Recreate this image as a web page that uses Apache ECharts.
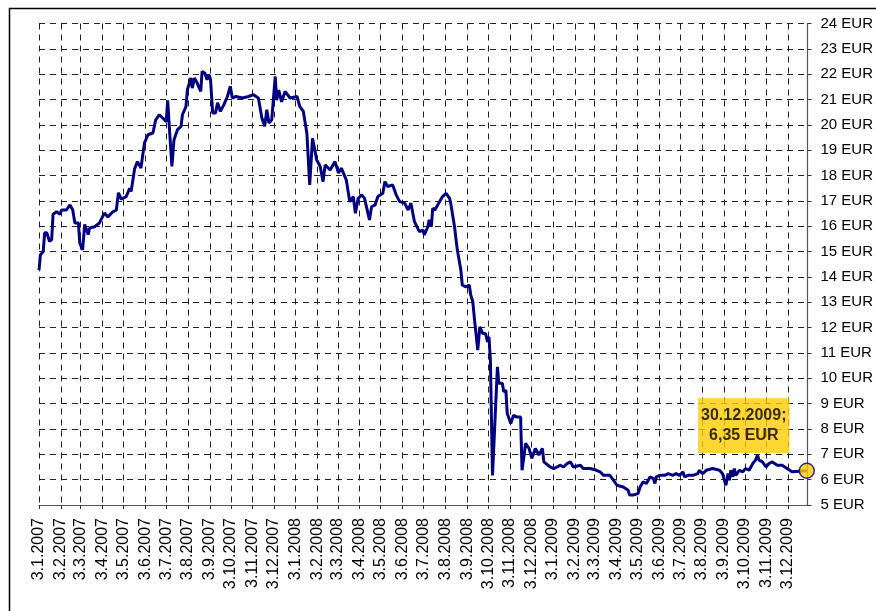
<!DOCTYPE html>
<html>
<head>
<meta charset="utf-8">
<script src="https://cdn.jsdelivr.net/npm/echarts@6/dist/echarts.min.js"></script>
<style>
html,body{margin:0;padding:0;background:#fff;}
#c{width:876px;height:611px;}
</style>
</head>
<body>
<div id="c"></div>
<script>
// Price points (date D.M.YYYY, price in EUR)
const dates = [
'3.1.2007','5.1.2007','9.1.2007','11.1.2007','14.1.2007','18.1.2007','21.1.2007','23.1.2007','28.1.2007',
'2.2.2007','4.2.2007','11.2.2007','16.2.2007','20.2.2007','23.2.2007','28.2.2007',
'2.3.2007','6.3.2007','9.3.2007','14.3.2007','16.3.2007','23.3.2007','30.3.2007',
'6.4.2007','11.4.2007','18.4.2007','23.4.2007','26.4.2007','30.4.2007',
'7.5.2007','12.5.2007','14.5.2007','19.5.2007','23.5.2007','28.5.2007',
'2.6.2007','7.6.2007','14.6.2007','18.6.2007','23.6.2007','28.6.2007',
'3.7.2007','5.7.2007','7.7.2007','11.7.2007','14.7.2007','19.7.2007','24.7.2007','26.7.2007','31.7.2007',
'2.8.2007','7.8.2007','9.8.2007','12.8.2007','16.8.2007','21.8.2007','23.8.2007','27.8.2007','30.8.2007',
'2.9.2007','4.9.2007','7.9.2007','11.9.2007','14.9.2007','18.9.2007','23.9.2007','28.9.2007',
'2.10.2007','5.10.2007','10.10.2007','19.10.2007','28.10.2007',
'4.11.2007','11.11.2007','16.11.2007','20.11.2007','23.11.2007','26.11.2007','30.11.2007',
'5.12.2007','7.12.2007','10.12.2007','14.12.2007','19.12.2007','26.12.2007',
'5.1.2008','9.1.2008','14.1.2008','19.1.2008','23.1.2008','27.1.2008',
'2.2.2008','7.2.2008','11.2.2008','14.2.2008','21.2.2008','28.2.2008',
'4.3.2008','8.3.2008','15.3.2008','20.3.2008','25.3.2008','28.3.2008',
'1.4.2008','6.4.2008','10.4.2008','17.4.2008','20.4.2008','25.4.2008','29.4.2008',
'6.5.2008','9.5.2008','13.5.2008','20.5.2008','25.5.2008','30.5.2008',
'6.6.2008','11.6.2008','15.6.2008','20.6.2008','27.6.2008',
'2.7.2008','4.7.2008','9.7.2008','11.7.2008','14.7.2008','16.7.2008','19.7.2008','23.7.2008','30.7.2008',
'4.8.2008','9.8.2008','11.8.2008','13.8.2008','16.8.2008','20.8.2008','25.8.2008','27.8.2008',
'1.9.2008','6.9.2008','8.9.2008','11.9.2008','13.9.2008','18.9.2008','21.9.2008','25.9.2008','29.9.2008',
'2.10.2008','4.10.2008','6.10.2008','9.10.2008','16.10.2008','18.10.2008','23.10.2008','25.10.2008','28.10.2008','30.10.2008',
'4.11.2008','8.11.2008','13.11.2008','18.11.2008','20.11.2008','23.11.2008','25.11.2008','30.11.2008',
'4.12.2008','9.12.2008','14.12.2008','19.12.2008','21.12.2008','23.12.2008','30.12.2008',
'4.1.2009','9.1.2009','13.1.2009','18.1.2009','23.1.2009','28.1.2009',
'1.2.2009','11.2.2009','15.2.2009','25.2.2009',
'6.3.2009','11.3.2009','16.3.2009','25.3.2009','30.3.2009',
'4.4.2009','13.4.2009','20.4.2009','22.4.2009','27.4.2009',
'4.5.2009','7.5.2009','11.5.2009','16.5.2009','21.5.2009','26.5.2009','28.5.2009','30.5.2009',
'4.6.2009','11.6.2009','16.6.2009','23.6.2009','27.6.2009',
'2.7.2009','7.7.2009','9.7.2009','14.7.2009','21.7.2009','28.7.2009','30.7.2009',
'4.8.2009','9.8.2009','18.8.2009','28.8.2009',
'1.9.2009','6.9.2009','9.9.2009','11.9.2009','13.9.2009','16.9.2009','18.9.2009','20.9.2009','25.9.2009','30.9.2009',
'4.10.2009','9.10.2009','14.10.2009','18.10.2009','21.10.2009','23.10.2009','28.10.2009',
'2.11.2009','6.11.2009','11.11.2009','18.11.2009','25.11.2009',
'2.12.2009','9.12.2009','30.12.2009'
];
const prices = [
14.27,14.87,15.0,15.74,15.74,15.4,15.47,16.47,16.57,
16.47,16.64,16.64,16.84,16.64,16.13,16.13,
15.34,15.07,16.07,15.67,15.93,15.98,16.13,
16.52,16.37,16.57,16.64,17.32,17.07,
17.17,17.5,17.37,18.27,18.55,18.3,
19.29,19.61,19.68,20.2,20.4,20.27,
20.13,20.97,20.07,18.36,19.41,19.81,19.94,20.4,20.72,
21.38,21.85,21.45,21.85,21.65,21.32,22.11,22.04,21.78,
21.97,21.78,20.47,20.47,20.87,20.53,20.8,21.12,
21.52,21.06,21.12,21.06,21.12,
21.19,21.06,20.27,19.94,20.6,20.07,20.2,
21.91,20.97,21.37,20.91,21.32,21.06,
21.12,20.72,20.53,19.67,17.63,19.47,
18.62,18.36,17.76,18.42,18.22,18.55,
18.1,18.29,17.83,16.97,17.17,16.51,
17.1,17.24,17.1,16.25,16.77,16.84,17.17,
17.3,17.76,17.57,17.63,17.24,16.97,
16.91,16.64,16.91,16.18,15.79,
15.85,15.66,15.98,16.25,15.98,16.71,16.64,16.84,17.17,
17.3,17.1,16.84,16.91,15.98,15.06,14.27,13.68,
13.61,13.68,13.29,13.02,12.43,11.11,12.03,11.77,11.77,
11.44,11.64,10.72,6.17,10.45,9.8,9.8,9.47,9.53,8.61,
8.22,8.54,8.47,8.47,6.37,6.97,7.43,7.23,
6.84,7.23,6.97,7.23,6.7,6.63,6.5,
6.44,6.5,6.57,6.5,6.63,6.7,
6.5,6.57,6.44,6.44,
6.37,6.31,6.17,6.17,5.98,
5.78,5.71,5.58,5.39,5.39,
5.45,5.71,5.91,5.85,6.11,6.04,5.85,6.11,
6.17,6.17,6.24,6.17,6.24,
6.17,6.31,6.11,6.17,6.17,6.24,6.37,
6.24,6.37,6.44,6.37,
6.24,5.78,6.24,5.98,6.37,6.11,6.44,6.17,6.37,6.31,
6.44,6.37,6.63,6.77,6.97,6.77,6.7,
6.5,6.63,6.7,6.57,6.57,
6.44,6.31,6.35
];
const yMin = 5, yMax = 24;

// category axis: every calendar day of the period
const categories = [];
for (let t = Date.UTC(2007,0,3); t <= Date.UTC(2009,11,31); t += 86400000) {
  const d = new Date(t);
  categories.push(d.getUTCDate() + '.' + (d.getUTCMonth()+1) + '.' + d.getUTCFullYear());
}
const priceMap = new Map();
dates.forEach((d,i) => priceMap.set(d, prices[i]));
const lineData = categories.map(c => priceMap.has(c) ? priceMap.get(c) : null);
const lastDate = dates[dates.length-1];
const lastPrice = prices[prices.length-1];
const isTick = (idx, val) => String(val).indexOf('3.') === 0;

const chart = echarts.init(document.getElementById('c'), null, {renderer:'canvas'});
chart.setOption({
  animation:false,
  backgroundColor:'#fff',
  grid:{left:39, right:64, top:23.5, bottom:106, containLabel:false},
  xAxis:{
    type:'category', data:categories, boundaryGap:false,
    axisLine:{show:true, lineStyle:{color:'#555', width:1.2}},
    axisTick:{show:true, interval:isTick, length:4, lineStyle:{color:'#333'}},
    axisLabel:{interval:isTick, rotate:90, margin:13, fontFamily:'Liberation Sans, Arial, sans-serif', fontSize:16, color:'#000'},
    splitLine:{show:true, interval:isTick, lineStyle:{color:'#222', width:1, type:[6,5]}}
  },
  yAxis:{
    type:'value', position:'right', min:yMin, max:yMax, interval:1,
    axisLine:{show:true, lineStyle:{color:'#555', width:1.2}},
    axisTick:{show:true, length:4, lineStyle:{color:'#333'}},
    axisLabel:{margin:13, formatter:'{value} EUR', fontFamily:'Liberation Sans, Arial, sans-serif', fontSize:15, color:'#000'},
    splitLine:{show:true, lineStyle:{color:'#222', width:1, type:[6,5]}}
  },
  graphic:[{
    type:'polyline', silent:true, z:100,
    shape:{points:[[9.5,611],[9.5,8.5],[876,8.5]]},
    style:{stroke:'#000', lineWidth:1.5, fill:null}
  }],
  series:[{
    type:'line', data:lineData, connectNulls:true, showSymbol:false, symbol:'none',
    lineStyle:{color:'#000080', width:3}, z:3
  },{
    type:'scatter', data:[[lastDate, lastPrice]], symbol:'circle', symbolSize:15, z:5,
    itemStyle:{color:'#FFCC00', borderColor:'#000080', borderWidth:1.5},
    label:{show:true, position:'inside', offset:[-63,-45],
      formatter: () => lastDate + ';\n' + lastPrice.toFixed(2).replace('.', ',') + ' EUR',
      backgroundColor:'#FFCC00', padding:[8,3,7,3], lineHeight:20, align:'center',
      fontFamily:'Liberation Sans, Arial, sans-serif', fontWeight:'bold', fontSize:16, color:'#000'}
  }]
});
</script>
</body>
</html>
